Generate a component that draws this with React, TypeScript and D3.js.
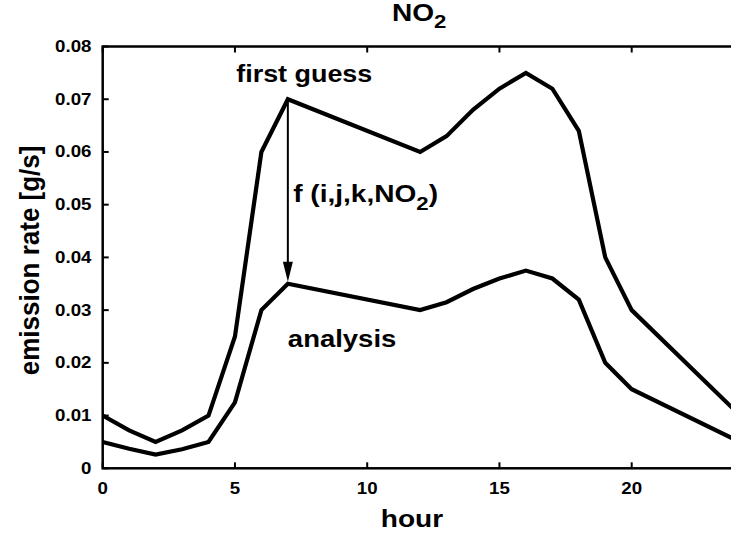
import * as d3 from "d3";
import React from "react";

const hours = [0, 1, 2, 3, 4, 5, 6, 7, 12, 13, 14, 15, 16, 17, 18, 19, 20, 24];
const firstGuess = [
  0.01, 0.0072, 0.005, 0.0072, 0.01, 0.025, 0.06, 0.07, 0.06, 0.063, 0.068,
  0.072, 0.075, 0.072, 0.064, 0.04, 0.03, 0.0105,
];
const analysis = [
  0.005, 0.0037, 0.0026, 0.0036, 0.005, 0.0125, 0.03, 0.035, 0.03, 0.0315,
  0.034, 0.036, 0.0375, 0.036, 0.032, 0.02, 0.015, 0.0052,
];
const xTicks = [0, 5, 10, 15, 20];
const yTicks = [0, 0.01, 0.02, 0.03, 0.04, 0.05, 0.06, 0.07, 0.08];

const FONT = "'Liberation Sans', Arial, Helvetica, sans-serif";
const SX = 1.17; // horizontal stretch of the original text

const App: React.FC = () => {
  const width = 731;
  const height = 534;
  const left = 102.7;
  const right = 737.5;
  const top = 46.5;
  const bottom = 468.3;

  const x = d3.scaleLinear().domain([0, 24]).range([left, right]);
  const y = d3.scaleLinear().domain([0, 0.08]).range([bottom, top]);

  const line = d3
    .line<number>()
    .x((_, i) => x(hours[i]))
    .y((d) => y(d));

  const arrowX = x(7);
  const arrowY1 = y(0.07);
  const arrowY2 = y(0.035) - 2;

  const label = (
    px: number,
    py: number,
    size: number,
    content: React.ReactNode,
    anchor: "start" | "middle" | "end" = "start"
  ) => (
    <text
      transform={`translate(${px},${py}) scale(${SX},1)`}
      fontSize={size}
      fontWeight="bold"
      fontFamily={FONT}
      textAnchor={anchor}
    >
      {content}
    </text>
  );

  return (
    <svg
      width={width}
      height={height}
      style={{ position: "absolute", left: 0, top: 0, background: "#fff" }}
    >
      <defs>
        <clipPath id="plot">
          <rect x={left} y={top - 5} width={right - left} height={bottom - top + 10} />
        </clipPath>
      </defs>

      {/* frame */}
      <rect
        x={left}
        y={top}
        width={right - left}
        height={bottom - top}
        fill="none"
        stroke="#000"
        strokeWidth={2.5}
      />

      {/* ticks */}
      {xTicks.map((t) => (
        <g key={`xt${t}`}>
          <line x1={x(t)} x2={x(t)} y1={bottom} y2={bottom - 6} stroke="#000" strokeWidth={2} />
          <line x1={x(t)} x2={x(t)} y1={top} y2={top + 6} stroke="#000" strokeWidth={2} />
          {label(x(t), 494, 16, String(t), "middle")}
        </g>
      ))}
      {yTicks.map((t) => (
        <g key={`yt${t}`}>
          <line x1={left} x2={left + 6} y1={y(t)} y2={y(t)} stroke="#000" strokeWidth={2} />
          <line x1={right} x2={right - 6} y1={y(t)} y2={y(t)} stroke="#000" strokeWidth={2} />
          {label(91.5, y(t) + 5.5, 16, t === 0 ? "0" : t.toFixed(2), "end")}
        </g>
      ))}

      {/* curves */}
      <g clipPath="url(#plot)">
        <path d={line(firstGuess) || ""} fill="none" stroke="#000" strokeWidth={4.2} strokeLinejoin="miter" />
        <path d={line(analysis) || ""} fill="none" stroke="#000" strokeWidth={4.2} strokeLinejoin="miter" />
      </g>

      {/* arrow */}
      <line x1={arrowX} x2={arrowX} y1={arrowY1} y2={arrowY2 - 16} stroke="#000" strokeWidth={2} />
      <path
        d={`M${arrowX - 5},${arrowY2 - 20} L${arrowX + 5},${arrowY2 - 20} L${arrowX},${arrowY2} Z`}
        fill="#000"
      />

      {/* annotations */}
      {label(x(5.05), 82, 23, "first guess")}
      {label(
        x(7.2),
        201.5,
        24,
        <>
          f (i,j,k,NO
          <tspan fontSize={19} dy={8}>2</tspan>
          <tspan dy={-8}>)</tspan>
        </>
      )}
      {label(x(7.0), 346.5, 23.5, "analysis")}

      {/* title */}
      {label(
        392,
        20.7,
        24,
        <>
          NO<tspan fontSize={19} dy={7}>2</tspan>
        </>
      )}

      {/* axis titles */}
      {label(412, 527, 24, "hour", "middle")}
      <text
        transform={`translate(39,${(top + bottom) / 2 + 3}) rotate(-90) scale(1,1.08)`}
        fontSize={26}
        fontWeight="bold"
        fontFamily={FONT}
        textAnchor="middle"
      >
        emission rate [g/s]
      </text>
    </svg>
  );
};

export default App;
